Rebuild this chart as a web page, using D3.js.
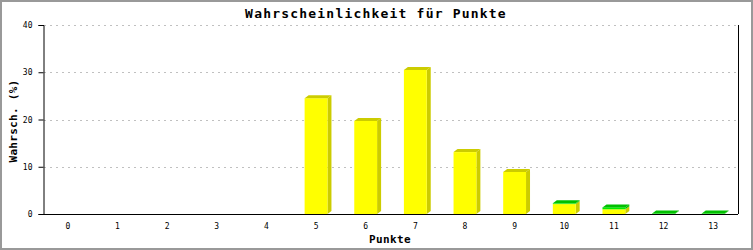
<!DOCTYPE html>
<html><head><meta charset="utf-8">
<script src="https://cdn.jsdelivr.net/npm/d3@7"></script>
<style>body{margin:0;background:#fff}svg{display:block}</style>
</head><body>
<svg id="c" width="753" height="250"></svg>
<script>
const categories = ["0","1","2","3","4","5","6","7","8","9","10","11","12","13"];
const yellowValues = [0,0,0,0,0,24.5,19.7,30.5,13.1,8.9,2.1,1.0,0,0];
const greenValues  = [0,0,0,0,0,0,0,0,0,0,0.15,0.4,0.1,0.1];
const yTicks = [0,10,20,30,40];
const title = "Wahrscheinlichkeit für Punkte";
const xTitle = "Punkte";
const yTitle = "Wahrsch. (%)";

const W = 753, H = 250;
const M = {left:43, right:738, top:25, bottom:214};
const svg = d3.select("#c");
const mono = "'DejaVu Sans Mono', 'Liberation Mono', monospace";

// border
svg.append("rect").attr("x",1).attr("y",1).attr("width",W-2).attr("height",H-2)
  .attr("fill","#fff").attr("stroke","#999").attr("stroke-width",2);

const x = d3.scaleBand().domain(categories).range([M.left, M.right])
  .paddingInner(0.54).paddingOuter(0.27);
const y = d3.scaleLinear().domain([0,40]).range([M.bottom, M.top]);

// gridlines
svg.append("g").selectAll("line").data(yTicks.filter(t=>t>0)).join("line")
  .attr("x1",M.left+1).attr("x2",M.right).attr("y1",d=>Math.round(y(d))+0.5).attr("y2",d=>Math.round(y(d))+0.5)
  .attr("stroke","#c0c0c0").attr("stroke-width",1).attr("stroke-dasharray","2,4");

// bars
const dx = 4, dy = 3;
const series = [
  {vals: yellowValues, front:"#ffff00", dark:"#cccc00"},
  {vals: greenValues,  front:"#00ee00", dark:"#00c000"}
];
const gBars = svg.append("g");
categories.forEach((c,i)=>{
  let base = 0;
  const segs = [];
  series.forEach(s=>{
    const v = s.vals[i];
    if (v > 0) { segs.push({y0:base, y1:base+v, s}); base += v; }
  });
  const bx = x(c), bw = x.bandwidth();
  segs.forEach(sg=>{
    const yt = y(sg.y1), yb = y(sg.y0);
    gBars.append("polygon")
      .attr("points", [[bx+bw,yt],[bx+bw+dx,yt-dy],[bx+bw+dx,yb-dy],[bx+bw,yb]].join(" "))
      .attr("fill", sg.s.dark);
    gBars.append("rect").attr("x",bx).attr("y",yt).attr("width",bw).attr("height",Math.max(0,yb-yt))
      .attr("fill", sg.s.front);
  });
  if (segs.length) {
    const top = segs[segs.length-1];
    const yt = y(top.y1);
    gBars.append("polygon")
      .attr("points", [[bx,yt],[bx+dx,yt-dy],[bx+bw+dx,yt-dy],[bx+bw,yt]].join(" "))
      .attr("fill", top.s.dark);
  }
});

// axes
const yAxis = d3.axisLeft(y).tickValues(yTicks).tickSize(5).tickPadding(6);
const gy = svg.append("g").attr("transform",`translate(${M.left+0.5},0)`).call(yAxis);
gy.select(".domain").attr("stroke","#000");
gy.selectAll(".tick line").attr("stroke","#000");
gy.selectAll(".tick text").attr("font-family",mono).attr("font-size","8px").attr("fill","#000");

const xAxis = d3.axisBottom(x).tickSize(0).tickPadding(9);
const gx = svg.append("g").attr("transform",`translate(0,${M.bottom+0.5})`).call(xAxis);
gx.select(".domain").attr("stroke","#000").attr("d",`M${M.left},0H${M.right}`);
gx.selectAll(".tick text").attr("font-family",mono).attr("font-size","8px").attr("fill","#000");

// right frame line
svg.append("line").attr("x1",M.right+0.5).attr("x2",M.right+0.5).attr("y1",M.top).attr("y2",M.bottom)
  .attr("stroke","#000");

// titles
svg.append("text").attr("x",376).attr("y",18).attr("text-anchor","middle")
  .attr("font-family",mono).attr("font-weight","bold").attr("font-size","13px")
  .attr("letter-spacing","1.2px").text(title);
svg.append("text").attr("x",390).attr("y",243).attr("text-anchor","middle")
  .attr("font-family",mono).attr("font-weight","bold").attr("font-size","11px")
  .attr("letter-spacing","0.4px").text(xTitle);
svg.append("text").attr("transform","translate(17,121) rotate(-90)").attr("text-anchor","middle")
  .attr("font-family",mono).attr("font-weight","bold").attr("font-size","11px")
  .attr("letter-spacing","0.3px").text(yTitle);
</script>
</body></html>
